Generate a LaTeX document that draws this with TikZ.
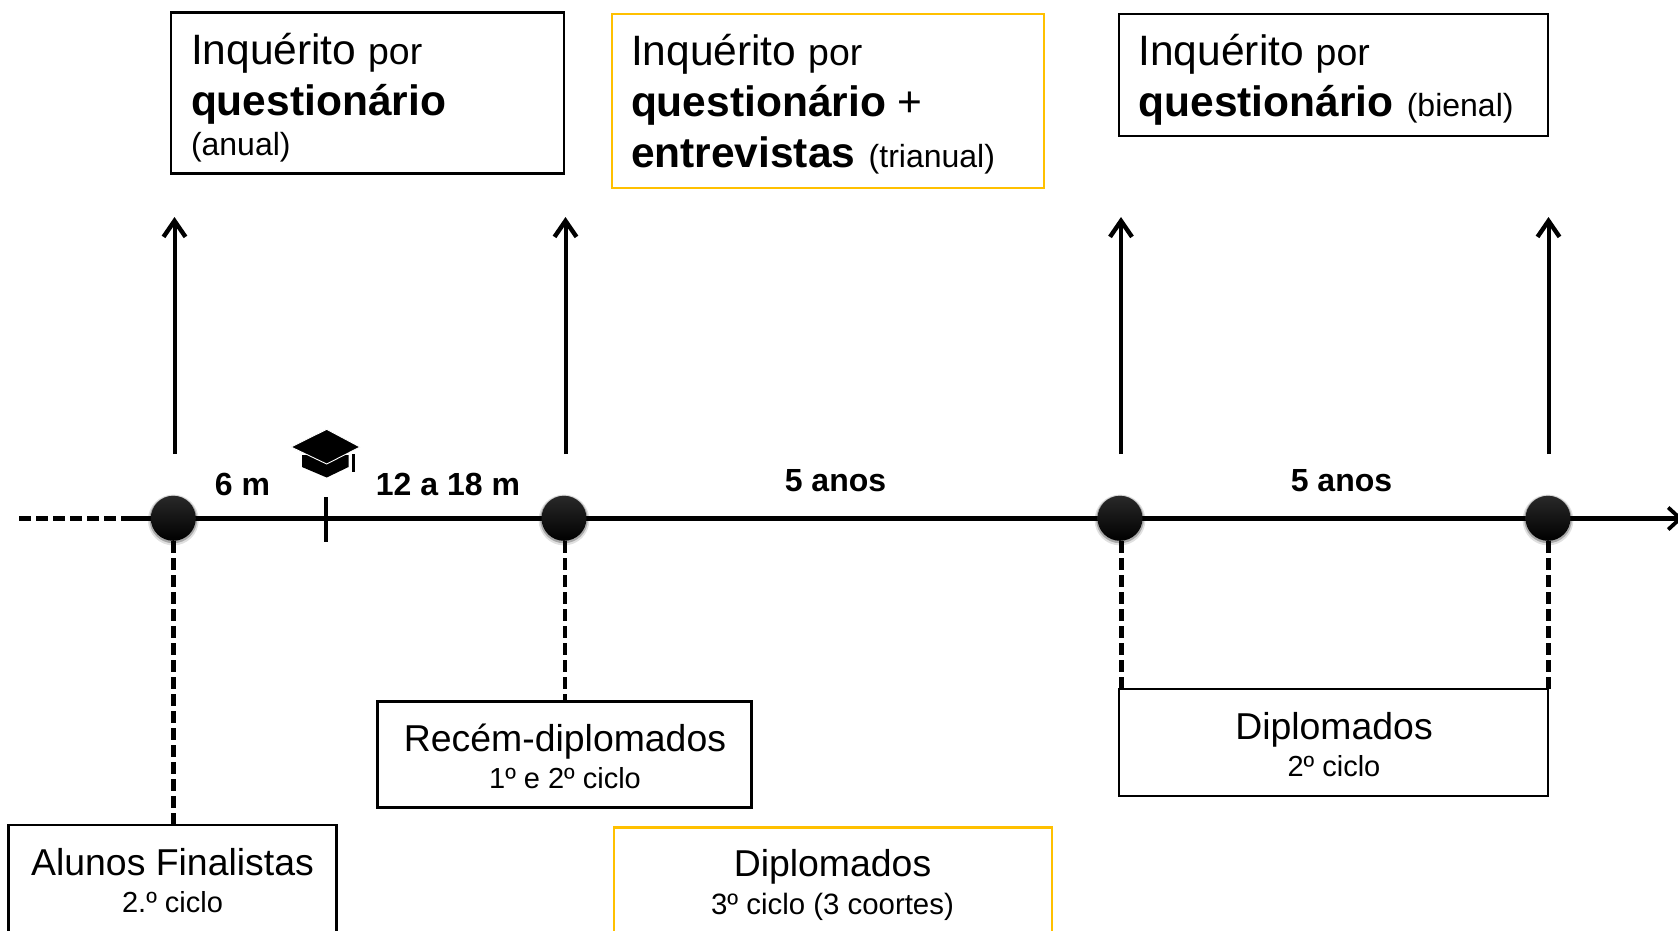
\documentclass[tikz,border=0pt]{standalone}
\usepackage{fontspec}
\setmainfont{Liberation Sans}
\usetikzlibrary{arrows.meta,shadows}
\definecolor{gold}{HTML}{FFC000}
\newcommand{\fsHuge}{\fontsize{42.5}{50}\selectfont}
\newcommand{\fsMid}{\fontsize{37.4}{44}\selectfont}
\newcommand{\fsPor}{\fontsize{37.4}{44}\selectfont}
\newcommand{\fsSmall}{\fontsize{32}{38}\selectfont}
\newcommand{\fsSub}{\fontsize{29}{34}\selectfont}
\tikzset{
  boxk/.style={draw=black,line width=2.7pt,fill=white,inner sep=0pt,outer sep=0pt},
  boxg/.style={draw=gold,line width=2.8pt,fill=white,inner sep=0pt,outer sep=0pt},
  linetext/.style={anchor=base west,inner sep=0pt,outer sep=0pt},
  centertext/.style={anchor=base,inner sep=0pt,outer sep=0pt},
  spanlabel/.style={anchor=base,inner sep=0pt,outer sep=0pt,font=\bfseries\fontsize{32}{38}\selectfont},
  axisline/.style={line width=4.3pt,black},
  uparrow/.style={line width=4pt,black,-{Straight Barb[length=16pt,width=22pt,line width=4.4pt]}},
  dashline/.style={line width=4.2pt,black,dash pattern=on 11.5pt off 5.5pt},
  dotnode/.style={circle,inner sep=0pt,outer sep=0pt,minimum size=45pt,
    top color=black!84,middle color=black,bottom color=black,shading angle=0,
    general shadow={shadow scale=1.13,shadow yshift=-1.5pt,fill=black,opacity=.12},
    general shadow={shadow scale=1.06,shadow yshift=-1pt,fill=black,opacity=.25}},
}
\begin{document}
\begin{tikzpicture}[x=1pt,y=-1pt]
\useasboundingbox (0,0) rectangle (1678,930);

% top boxes
\node[boxk,minimum width=393pt,minimum height=161pt] (qa) at (367.5,93) {};
\node[boxg,minimum width=432pt,minimum height=174pt] (qb) at (828,101) {};
\node[boxk,minimum width=429pt,minimum height=122pt] (qc) at (1333.5,75) {};
% bottom boxes
\node[boxk,minimum width=328pt,minimum height=160pt] (alunos) at (172.5,905) {};
\node[boxk,minimum width=374pt,minimum height=106pt] (recem) at (564.5,754.5) {};
\node[boxg,minimum width=438pt,minimum height=160pt] (dip3) at (833,907.5) {};
\node[boxk,minimum width=429pt,minimum height=107pt] (dip2) at (1333.5,742.5) {};

% free ends
\coordinate (axisstart) at (19,518.5);
\coordinate (axissolid) at (126,518.5);
\coordinate (axisend) at (1683,518.5);
\coordinate (tickt) at (326,497);
\coordinate (tickb) at (326,542);
\coordinate (a1s) at (174.5,454); \coordinate (a1e) at (174.5,217);
\coordinate (a2s) at (565.5,454);   \coordinate (a2e) at (565.5,217);
\coordinate (a3s) at (1121,454);  \coordinate (a3e) at (1121,217);
\coordinate (a4s) at (1548.5,454);  \coordinate (a4e) at (1548.5,217);
\coordinate (d1b) at (173.5,541);
\coordinate (d2x) at (565,541);
\coordinate (d3x) at (1121.5,541);
\coordinate (d4x) at (1548.5,541);

% axis
\draw[axisline,dash pattern=on 12pt off 5pt] (axisstart) -- (axissolid);
\draw[axisline,-{Straight Barb[length=12pt,width=22pt,line width=3.8pt]}] (axissolid) -- (axisend);
\draw[line width=3.8pt] (tickt) -- (tickb);

% arrows
\draw[uparrow] (a1s) -- (a1e);
\draw[uparrow] (a2s) -- (a2e);
\draw[uparrow] (a3s) -- (a3e);
\draw[uparrow] (a4s) -- (a4e);

% dashed connectors
\draw[dashline] (d1b) -- (d1b |- alunos.north);
\draw[dashline] (d2x) -- (d2x |- recem.north);
\draw[dashline] (d3x) -- (d3x |- dip2.north);
\draw[dashline] (d4x) -- (d4x |- dip2.north);

% dots
\node[dotnode] (t1) at (173.3,518.3) {};
\node[dotnode] (t2) at (564,518.3) {};
\node[dotnode] (t3) at (1120,518.3) {};
\node[dotnode] (t4) at (1548,518.3) {};

% graduation cap
\fill[black] (302,455) -- (302,467) -- (326.7,477.5) -- (348.5,467) -- (348.5,455) -- cycle;
\filldraw[black,draw=white,line width=.9pt,line join=miter] (326.7,429.3) -- (360,447) -- (326.7,464) -- (291,447) -- cycle;
\draw[black,line width=3.4pt] (353.5,454) -- (353.5,472);

% span labels
\node[spanlabel] (l6m) at (242.5,495) {6 m};
\node[spanlabel] (l12) at (448,495) {12 a 18 m};
\node[spanlabel] (l5a) at (835.5,491) {5 anos};
\node[spanlabel] (l5b) at (1341.5,491) {5 anos};

% top text
\node[linetext] (qa1) at (191,64) {\fsHuge Inquérito {\fsPor por}};
\node[linetext] (qa2) at (191,115) {\fsHuge\bfseries questionário};
\node[linetext] (qa3) at (191,155) {\fsSmall (anual)};

\node[linetext] (qb1) at (631,65) {\fsHuge Inquérito {\fsPor por}};
\node[linetext] (qb2) at (631,116) {\fsHuge\bfseries questionário {\mdseries +}};
\node[linetext] (qb3) at (631,167) {\fsHuge\bfseries entrevistas {\mdseries\fontsize{32}{38}\selectfont\hspace{1.5pt}(trianual)}};

\node[linetext] (qc1) at (1138.5,65) {\fsHuge Inquérito {\fsPor por}};
\node[linetext] (qc2) at (1138.5,116) {\fsHuge\bfseries questionário {\mdseries\fsSmall\hspace{1.5pt}(bienal)}};

% bottom text
\node[centertext] (al1) at (172.5,875) {\fsMid Alunos Finalistas};
\node[centertext] (al2) at (172.5,912) {\fsSub 2.º ciclo};
\node[centertext] (re1) at (565,751) {\fsMid Recém-diplomados};
\node[centertext] (re2) at (565,788) {\fsSub 1º e 2º ciclo};
\node[centertext] (d31) at (832.5,876) {\fsMid Diplomados};
\node[centertext] (d32) at (832.5,914.5) {\fontsize{29.4}{34}\selectfont 3º ciclo (3 coortes)};
\node[centertext] (d21) at (1334,739) {\fsMid Diplomados};
\node[centertext] (d22) at (1334,776) {\fsSub 2º ciclo};
\end{tikzpicture}
\end{document}
